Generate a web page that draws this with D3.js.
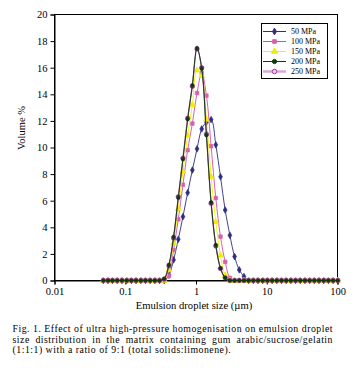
<!DOCTYPE html>
<html><head><meta charset="utf-8">
<script src="https://cdn.jsdelivr.net/npm/d3@7"></script>
<style>
html,body{margin:0;padding:0;background:#fff;}
svg, svg text{font-family:"Liberation Serif","DejaVu Serif","Times New Roman",serif !important;}
</style></head>
<body><svg id="c" width="364" height="376"></svg>
<script>
const sizes = [0.049, 0.057, 0.066, 0.077, 0.090, 0.105, 0.122, 0.142, 0.166, 0.193,
  0.225, 0.262, 0.305, 0.355, 0.414, 0.482, 0.562, 0.654, 0.762, 0.888,
  1.034, 1.205, 1.404, 1.635, 1.905, 2.219, 2.585, 3.012, 3.509, 4.088,
  4.762, 5.548, 6.463, 7.530, 8.772, 10.22, 11.91, 13.87, 16.16, 18.82,
  21.93, 25.55, 29.76, 34.67, 40.39, 47.06, 54.82, 63.87, 74.41, 86.68, 101.0];
const mpa50 = [0,0,0,0,0,0,0,0,0,0, 0,0,0,0,0.4,1.55,3.1,4.8,6.6,8.3,
  9.9,11.4,11.9,12.1,10.2,7.8,5.3,3.4,1.8,0.8, 0.3,0,0,0,0,0,0,0,0,0, 0,0,0,0,0,0,0,0,0,0,0];
const mpa100 = [0,0,0,0,0,0,0,0,0,0, 0,0,0,0,0.35,2.3,4.6,7.2,9.8,11.8,
  14.1,15.6,13.9,10.1,6.2,3.3,1.4,0.2,0,0, 0,0,0,0,0,0,0,0,0,0, 0,0,0,0,0,0,0,0,0,0,0];
const mpa150 = [0,0,0,0,0,0,0,0,0,0, 0,0,0,0,0.8,2.8,5.4,8.2,10.9,13.2,
  15.8,15.4,12.1,7.8,4.4,1.9,0.4,0,0,0, 0,0,0,0,0,0,0,0,0,0, 0,0,0,0,0,0,0,0,0,0,0];
const mpa200 = [0,0,0,0,0,0,0,0,0,0, 0,0,0,0.15,1.2,3.3,6.2,9.1,12.1,14.7,
  17.5,15.9,10.9,5.9,2.7,0.93,0.2,0,0,0, 0,0,0,0,0,0,0,0,0,0, 0,0,0,0,0,0,0,0,0,0,0];
const mpa250 = [0,0,0,0,0,0,0,0,0,0, 0,0,0,0.1,1.1,3.2,6.3,9.2,12.2,14.6,
  17.4,16.0,11.0,5.8,2.6,0.9,0.2,0,0,0, 0,0,0,0,0,0,0,0,0,0, 0,0,0,0,0,0,0,0,0,0,0];
const seriesNames = ["50 MPa", "100 MPa", "150 MPa", "200 MPa", "250 MPa"];
const xTicks = [0.01, 0.1, 1, 10, 100];
const xTickLabels = ["0.01", "0.1", "1", "10", "100"];
const yTicks = [0, 2, 4, 6, 8, 10, 12, 14, 16, 18, 20];
const xTitle = "Emulsion droplet size (\u00b5m)";
const yTitle = "Volume %";
const captionLines = [
  "Fig. 1.  Effect of ultra high-pressure homogenisation on emulsion droplet",
  "size distribution in the matrix containing gum arabic/sucrose/gelatin",
  "(1:1:1) with a ratio of 9:1 (total solids:limonene)."
];

const FF = "Liberation Serif";
const svg = d3.select("#c").attr("font-family", FF);
const L = 54.5, R = 337.5, T = 14.5, B = 280.5;
const x = d3.scaleLog().domain([0.01, 100]).range([L, R]);
const y = d3.scaleLinear().domain([0, 20]).range([B, T]);

svg.append("rect").attr("x", L).attr("y", T).attr("width", R - L).attr("height", B - T)
  .attr("fill", "none").attr("stroke", "#000").attr("stroke-width", 1);

const yAx = svg.append("g").attr("transform", `translate(${L},0)`)
  .call(d3.axisLeft(y).tickValues(yTicks).tickSize(4).tickPadding(3).tickFormat(d3.format("d")));
const xAx = svg.append("g").attr("transform", `translate(0,${B})`)
  .call(d3.axisBottom(x).tickValues(xTicks).tickSize(4).tickPadding(3)
    .tickFormat((d, i) => xTickLabels[i]));
[yAx, xAx].forEach(g => {
  g.attr("font-family", FF).attr("font-size", 10.5);
  g.select(".domain").attr("stroke", "#000");
  g.selectAll("text").attr("font-family", FF).attr("font-size", 10.5).attr("fill", "#000");
  g.selectAll("line").attr("stroke", "#000");
});

svg.append("text").attr("x", 194).attr("y", 308.5).attr("text-anchor", "middle")
  .attr("font-family", FF).attr("font-size", 10.6).text(xTitle);
svg.append("text").attr("transform", "translate(25,128) rotate(-90)").attr("text-anchor", "middle")
  .attr("font-family", FF).attr("font-size", 10.5).text(yTitle);

const defs = [
  {name: seriesNames[0], data: mpa50, line: "#2E2E80", lw: 0.9, mark: "diamond", fill: "#2E2E80", stroke: "#2E2E80", ms: 13},
  {name: seriesNames[1], data: mpa100, line: "#D050A8", lw: 0.9, mark: "square", fill: "#D860A8", stroke: "#D860A8", ms: 13},
  {name: seriesNames[2], data: mpa150, line: "#F0F000", lw: 0.9, mark: "triangle", fill: "#F0F000", stroke: "#E8E800", ms: 15},
  {name: seriesNames[3], data: mpa200, line: "#0B3B0B", lw: 0.9, mark: "circle", fill: "#0B3B0B", stroke: "#0B3B0B", ms: 8},
  {name: seriesNames[4], data: mpa250, line: "#A04AA0", lw: 1.2, mark: "circle", fill: "#6A2A6A", stroke: "#9C3C9C", ms: 16}
];
const symType = {diamond: d3.symbolDiamond, square: d3.symbolSquare, triangle: d3.symbolTriangle, circle: d3.symbolCircle};
const order = [0, 1, 2, 4, 3];
const line = d3.line().x(d => x(d[0])).y(d => y(d[1])).curve(d3.curveCatmullRom.alpha(0.5));
order.forEach(i => {
  const s = defs[i];
  const pts = sizes.map((v, k) => [v, s.data[k]]);
  svg.append("path").datum(pts).attr("d", line).attr("fill", "none")
    .attr("stroke", s.line).attr("stroke-width", s.lw);
  svg.append("g").selectAll("path").data(pts).join("path")
    .attr("transform", d => `translate(${x(d[0])},${y(d[1])})`)
    .attr("d", d3.symbol().type(symType[s.mark]).size(s.ms))
    .attr("fill", s.fill).attr("stroke", s.stroke).attr("stroke-width", 0.6);
});

// legend
const lg = svg.append("g");
lg.append("rect").attr("x", 261.5).attr("y", 23.5).attr("width", 66).attr("height", 55)
  .attr("fill", "#fff").attr("stroke", "#000");
defs.forEach((s, i) => {
  const yy = 31.5 + i * 10;
  lg.append("line").attr("x1", 263).attr("x2", 286).attr("y1", yy).attr("y2", yy)
    .attr("stroke", i === 4 ? "#D8A8D8" : s.line).attr("stroke-width", i === 4 ? 2.5 : 1);
  lg.append("path").attr("transform", `translate(274.5,${yy})`)
    .attr("d", d3.symbol().type(symType[s.mark]).size(i === 3 ? 14 : s.ms))
    .attr("fill", i === 4 ? "#E8C8E8" : s.fill).attr("stroke", i === 4 ? "#9C3C9C" : s.stroke);
  lg.append("text").attr("x", 291).attr("y", yy).attr("dy", "0.35em")
    .attr("font-family", FF).attr("font-size", 8).text(s.name);
});

// caption (justified first two lines)
const CF = 9.8, LS = 0.5;
const capX0 = 12.5, capX1 = 333, baseY = [332, 342.5, 353];
captionLines.forEach((ln, i) => {
  const t = svg.append("text").attr("y", baseY[i]).attr("font-family", FF).attr("font-size", CF)
    .attr("letter-spacing", LS).attr("fill", "#000");
  if (i === captionLines.length - 1) { t.attr("x", capX0).text(ln); return; }
  const words = ln.split(/\s+/);
  const widths = words.map(w => {
    const tmp = svg.append("text").attr("font-family", FF).attr("font-size", CF).attr("letter-spacing", LS).text(w);
    const wd = tmp.node().getComputedTextLength(); tmp.remove(); return wd;
  });
  const total = d3.sum(widths);
  const gap = (capX1 - capX0 - total) / (words.length - 1);
  let cx = capX0;
  words.forEach((w, k) => {
    t.append("tspan").attr("x", cx).text(w);
    cx += widths[k] + gap;
  });
});
</script></body></html>
